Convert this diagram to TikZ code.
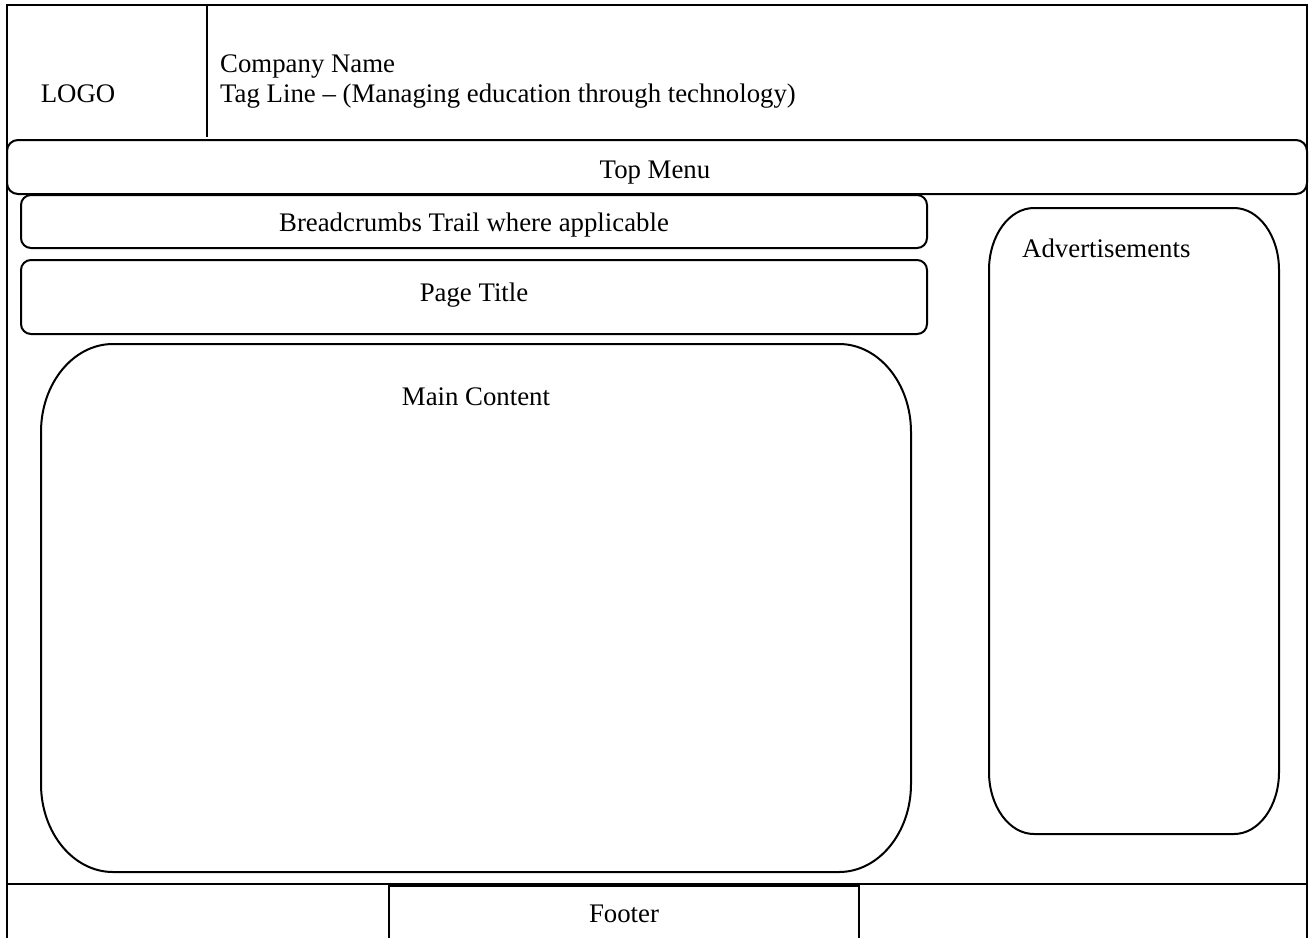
\documentclass[tikz,border=0pt]{standalone}
\usepackage{fontspec}
\setmainfont{Liberation Serif}
\newcommand\ellbox[7][]{%
  \draw[#1] (#2,#3+#7) arc[start angle=180,end angle=270,x radius=#6,y radius=#7]
    -- (#4-#6,#3) arc[start angle=270,end angle=360,x radius=#6,y radius=#7]
    -- (#4,#5-#7) arc[start angle=0,end angle=90,x radius=#6,y radius=#7]
    -- (#2+#6,#5) arc[start angle=90,end angle=180,x radius=#6,y radius=#7]
    -- cycle;}
\begin{document}
\begin{tikzpicture}[x=1pt,y=-1pt,
  frame/.style={line width=2.6pt},
  box/.style={line width=2pt},
  lbl/.style={inner sep=0pt,font=\fontsize{26.8}{30}\selectfont}]
\useasboundingbox (0,0) rectangle (1309,938);
% outer frame
\draw[frame] (7,938) -- (7,5) -- (1307,5) -- (1307,938);
\draw[box] (207,5) -- (207,137);
% header texts
\node[lbl,anchor=base] (logo) at (78,102) {LOGO};
\node[lbl,anchor=base west] (company) at (220,72) {Company Name};
\node[lbl,anchor=base west] (tagline) at (220,102) {Tag Line – (Managing education through technology)};
% top menu
\draw[box,rounded corners=11pt] (7,140) rectangle (1307,194);
\node[lbl,anchor=base] (topmenu) at (655,178) {Top Menu};
% breadcrumbs
\draw[box,rounded corners=10pt] (21,195) rectangle (927,248);
\node[lbl,anchor=base] (bread) at (474,231) {Breadcrumbs Trail where applicable};
% page title
\draw[box,rounded corners=10pt] (21,260) rectangle (927,334);
\node[lbl,anchor=base] (title) at (474,301) {Page Title};
% main content
\ellbox[box]{41}{344}{911}{872}{72}{88}
\node[lbl,anchor=base] (main) at (476,405) {Main Content};
% advertisements
\ellbox[box]{989}{208}{1279}{834}{45}{62}
\node[lbl,anchor=base west] (ads) at (1022,257) {Advertisements};
% footer
\draw[box] (7,884) -- (1307,884);
\draw[box] (389,938) -- (389,886) -- (859,886) -- (859,938);
\node[lbl,anchor=base] (footer) at (624,922) {Footer};
\end{tikzpicture}
\end{document}
